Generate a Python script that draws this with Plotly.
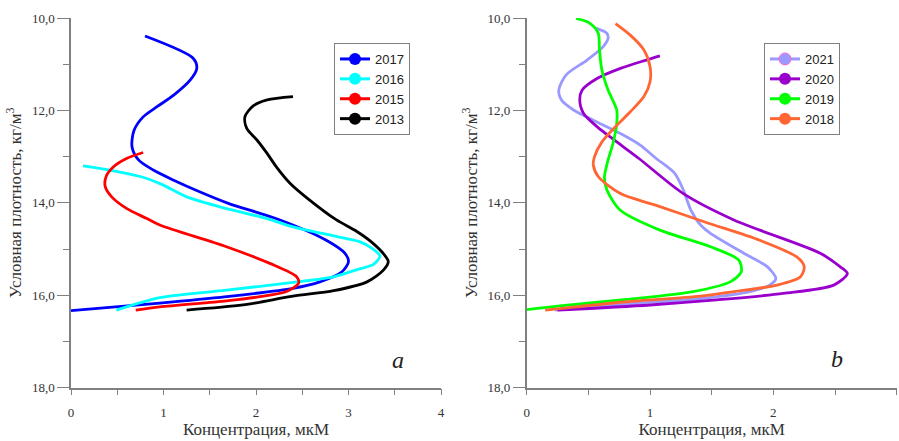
import plotly.graph_objects as go

# ---- data: left panel (a) ----
x2017 = [0.80,1.32,1.36,1.29,1.11,0.93,0.78,0.68,0.66,0.73,0.89,1.11,1.39,1.70,2.26,2.76,2.96,3.00,2.93,2.69,2.40,1.68,0.96,0.0]
y2017 = [10.39,10.87,11.09,11.34,11.67,11.92,12.14,12.44,12.79,13.07,13.29,13.51,13.76,14.01,14.37,14.81,15.09,15.27,15.49,15.71,15.85,16.03,16.17,16.33]
x2016 = [0.13,0.42,0.75,0.98,1.25,1.60,2.12,2.40,2.85,3.12,3.25,3.34,3.27,3.10,2.84,2.40,1.68,0.96,0.49]
y2016 = [13.20,13.29,13.43,13.60,13.87,14.08,14.34,14.52,14.72,14.84,14.98,15.15,15.33,15.44,15.60,15.72,15.89,16.05,16.32]
x2015 = [0.78,0.60,0.46,0.38,0.37,0.44,0.60,0.82,0.96,1.68,2.15,2.44,2.46,2.33,2.04,1.68,0.96,0.70]
y2015 = [12.91,13.04,13.22,13.43,13.65,13.87,14.12,14.34,14.48,14.95,15.31,15.60,15.74,15.92,16.03,16.12,16.25,16.32]
x2013 = [2.40,2.12,1.97,1.88,1.90,2.01,2.12,2.22,2.37,2.58,2.87,3.09,3.25,3.39,3.43,3.38,3.20,2.84,2.40,1.86,1.25]
y2013 = [11.70,11.77,11.90,12.14,12.39,12.64,12.93,13.22,13.58,13.94,14.37,14.62,14.85,15.13,15.27,15.45,15.71,15.90,16.02,16.21,16.32]

# ---- data: right panel (b) ----
x2021 = [0.56,0.65,0.66,0.62,0.49,0.32,0.26,0.28,0.38,0.54,0.76,0.92,1.05,1.20,1.27,1.33,1.41,1.49,1.76,1.95,2.02,1.97,1.81,1.41,0.81,0.23]
y2021 = [10.22,10.33,10.44,10.62,10.91,11.23,11.56,11.77,11.99,12.21,12.50,12.75,13.04,13.36,13.72,14.15,14.48,14.66,15.09,15.38,15.64,15.78,15.92,16.07,16.19,16.32]
x2020 = [1.08,0.97,0.76,0.57,0.45,0.43,0.46,0.57,0.73,0.91,1.27,1.68,1.89,2.38,2.54,2.60,2.49,2.08,1.54,1.00,0.25]
y2020 = [10.82,10.91,11.09,11.31,11.56,11.77,12.06,12.35,12.68,13.04,13.80,14.37,14.59,15.09,15.38,15.53,15.78,15.96,16.10,16.21,16.32]
x2019 = [0.40,0.51,0.58,0.59,0.61,0.66,0.73,0.73,0.70,0.66,0.63,0.65,0.76,1.08,1.49,1.72,1.74,1.65,1.35,0.81,0.27,0.0]
y2019 = [10.01,10.11,10.33,10.69,11.13,11.56,11.99,12.28,12.71,13.07,13.45,13.72,14.16,14.59,14.95,15.24,15.49,15.71,15.92,16.09,16.23,16.31]
x2018 = [0.72,0.84,0.95,1.00,1.00,0.95,0.84,0.72,0.61,0.55,0.54,0.58,0.76,1.08,1.45,1.89,2.19,2.25,2.22,2.03,1.68,1.41,0.81,0.40,0.15]
y2018 = [10.12,10.37,10.69,11.05,11.38,11.70,12.03,12.35,12.68,13.00,13.18,13.43,13.80,14.08,14.42,14.81,15.17,15.38,15.60,15.78,15.92,16.02,16.14,16.25,16.32]

y_ticks = [10, 12, 14, 16, 18]
y_ticktext = ["10,0", "12,0", "14,0", "16,0", "18,0"]
y_minor = [11, 13, 15, 17]

left_series = [("2017", x2017, y2017, "#0000FF"),
               ("2016", x2016, y2016, "#00FFFF"),
               ("2015", x2015, y2015, "#FF0000"),
               ("2013", x2013, y2013, "#000000")]
right_series = [("2021", x2021, y2021, "#9999FF"),
                ("2020", x2020, y2020, "#9900CC"),
                ("2019", x2019, y2019, "#00FF00"),
                ("2018", x2018, y2018, "#FF6633")]

fig = go.Figure()
W, H = 899, 441

for name, xs, ys, col in left_series:
    fig.add_trace(go.Scatter(x=xs, y=ys, mode="lines", line=dict(color=col, width=2.8, shape="spline", smoothing=0.8),
                             showlegend=False, xaxis="x", yaxis="y"))
for name, xs, ys, col in right_series:
    fig.add_trace(go.Scatter(x=xs, y=ys, mode="lines", line=dict(color=col, width=2.8, shape="spline", smoothing=0.8),
                             showlegend=False, xaxis="x2", yaxis="y2"))

# legend entries
for name, xs, ys, col in left_series:
    fig.add_trace(go.Scatter(x=[None], y=[None], mode="lines+markers", name=name,
                             line=dict(color=col, width=3), marker=dict(color=col, size=12),
                             xaxis="x", yaxis="y", legend="legend"))
for name, xs, ys, col in right_series:
    mline = dict(color="#FF66CC", width=1) if name == "2021" else dict(width=0)
    fig.add_trace(go.Scatter(x=[None], y=[None], mode="lines+markers", name=name,
                             line=dict(color=col, width=3), marker=dict(color=col, size=12, line=mline),
                             xaxis="x2", yaxis="y2", legend="legend2"))

serif = "Liberation Serif"
sans = "Liberation Sans"

def xaxis(dom, maxv):
    return dict(domain=dom, range=[0, maxv], tickvals=list(range(0, maxv + 1)),
                ticks="outside", ticklen=6, tickwidth=1.3, tickcolor="#808080",
                minor=dict(tickvals=[i + 0.5 for i in range(maxv)], ticks="outside", ticklen=6, tickwidth=1.3, tickcolor="#808080"),
                showline=True, linecolor="#808080", linewidth=1.5, showgrid=False, zeroline=False,
                tickfont=dict(family=serif, size=13, color="#333"), ticklabelstandoff=6,
                title=dict(text="Концентрация, мкМ", font=dict(family=serif, size=17, color="#333"), standoff=4))

def yaxis(dom, anchor):
    return dict(domain=dom, range=[18, 10], anchor=anchor, tickvals=y_ticks, ticktext=y_ticktext,
                ticks="outside", ticklen=12, tickwidth=1.3, tickcolor="#808080",
                minor=dict(tickvals=y_minor, ticks="outside", ticklen=6, tickwidth=1.3, tickcolor="#808080"),
                showline=True, linecolor="#808080", linewidth=1.5, showgrid=False, zeroline=False,
                tickfont=dict(family=serif, size=13, color="#333"),
                title=dict(text="Условная плотность, кг/м<sup>3</sup>", font=dict(family=serif, size=17, color="#333"), standoff=6))

ydom = [(H - 387.7) / H, (H - 18) / H]
fig.update_layout(
    width=W, height=H, margin=dict(l=0, r=0, t=0, b=0, autoexpand=False),
    paper_bgcolor="white", plot_bgcolor="white",
    xaxis=dict(**xaxis([71 / W, 441 / W], 4), anchor="y"),
    yaxis=yaxis(ydom, "x"),
    xaxis2=dict(**xaxis([526.7 / W, 896.7 / W], 3), anchor="y2"),
    yaxis2=yaxis(ydom, "x2"),
    legend=dict(x=334 / W, y=1 - 43 / H, xanchor="left", yanchor="top", bordercolor="#808080", borderwidth=1,
                bgcolor="white", font=dict(family=sans, size=13, color="#222"), tracegroupgap=0, itemwidth=30),
    legend2=dict(x=764 / W, y=1 - 43 / H, xanchor="left", yanchor="top", bordercolor="#808080", borderwidth=1,
                 bgcolor="white", font=dict(family=sans, size=13, color="#222"), tracegroupgap=0, itemwidth=30),
    annotations=[
        dict(text="<i>a</i>", x=398 / W, y=1 - 360 / H, xref="paper", yref="paper", showarrow=False,
             font=dict(family=serif, size=24, color="#222"), xanchor="center", yanchor="middle"),
        dict(text="<i>b</i>", x=837 / W, y=1 - 359 / H, xref="paper", yref="paper", showarrow=False,
             font=dict(family=serif, size=24, color="#222"), xanchor="center", yanchor="middle"),
    ],
)

fig.write_html("out.html")
